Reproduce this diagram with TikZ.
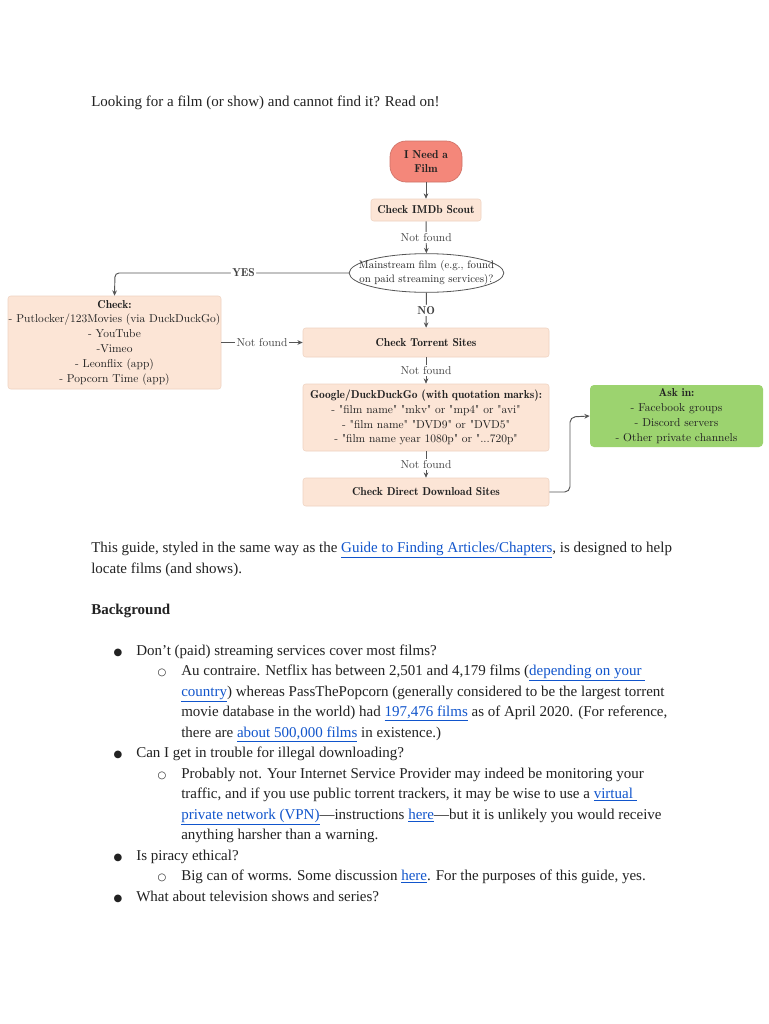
\documentclass[tikz,border=0pt]{standalone}
\usepackage{fontspec}
\setmainfont{Liberation Serif}
\newfontfamily\chartfont[BoldFont=lmromandemi10-regular.otf]{lmroman10-regular.otf}
\newfontfamily\symfont{DejaVu Sans}
\usetikzlibrary{arrows.meta,shapes.geometric}
\definecolor{peach}{HTML}{FCE5D6}
\definecolor{peachline}{HTML}{EFD3C2}
\definecolor{salmon}{HTML}{F4877A}
\definecolor{grass}{HTML}{9CD36F}
\definecolor{ink}{HTML}{222222}
\definecolor{wire}{HTML}{555555}
\definecolor{linkblue}{HTML}{1155CC}
\definecolor{body}{HTML}{222222}
\newcommand\lnk[1]{\textcolor{linkblue}{\underline{#1}}}
\begin{document}
\begin{tikzpicture}[x=0.75pt,y=-0.75pt,
  chart/.style={font=\chartfont\fontsize{8.6}{11.1}\selectfont, text=ink, align=center, inner sep=0pt},
  chartbold/.style={font=\chartfont\bfseries\fontsize{8.6}{11.1}\selectfont},
  pbox/.style={chart, rectangle, rounded corners=2pt, fill=peach, draw=peachline, line width=0.4pt},
  startbox/.style={chart, chartbold, rectangle, rounded corners=12pt, fill=salmon, draw=salmon!85!black, line width=0.5pt},
  askbox/.style={chart, rectangle, rounded corners=3pt, fill=grass, draw=none},
  decision/.style={ellipse, draw=wire, fill=white, line width=0.6pt, inner sep=0pt},
  conn/.style={draw=wire, line width=0.7pt, -{Stealth[length=4pt,width=3.5pt]}},
  lab/.style={chart, fill=white, inner sep=1pt, text=ink!85},
  btext/.style={anchor=base west, inner sep=0pt, text=body, font=\fontsize{11.25}{13}\selectfont},
  bul/.style={anchor=base, inner sep=0pt, text=body, font=\symfont\fontsize{7.5}{8}\selectfont}
]
\useasboundingbox[fill=white] (0,0) rectangle (768,1024);

% ---------- flowchart ----------
\node[startbox, minimum width=54pt, minimum height=30.75pt] (start) at (426,161.5) {I Need a\\Film};
\node[pbox, chartbold, minimum width=82.5pt, minimum height=16.5pt] (imdb) at (426,210) {Check IMDb Scout};
\node[decision, minimum width=116pt, minimum height=29pt] (main) at (426.5,273) {};
\node[chart, font=\chartfont\fontsize{8.1}{10.8}\selectfont] (maintext) at (main.center) {Mainstream film (e.g., found\\on paid streaming services)?};
\node[pbox, minimum width=159.75pt, minimum height=69.75pt] (check) at (114.5,342.5) {\textbf{Check:}\\- Putlocker/123Movies (via DuckDuckGo)\\- YouTube\\-Vimeo\\- Leonflix (app)\\- Popcorn Time (app)};
\node[pbox, chartbold, minimum width=184.5pt, minimum height=21.75pt] (torrent) at (426,342.5) {Check Torrent Sites};
\node[pbox, minimum width=184.5pt, minimum height=50.25pt] (google) at (426,417.5) {\textbf{Google/DuckDuckGo (with quotation marks):}\\- "film name" "mkv" or "mp4" or "avi"\\- "film name" "DVD9" or "DVD5"\\- "film name year 1080p" or "...720p"};
\node[pbox, chartbold, minimum width=184.5pt, minimum height=21pt] (direct) at (426,492) {Check Direct Download Sites};
\node[askbox, minimum width=129.75pt, minimum height=46.5pt] (ask) at (676.5,416) {\textbf{Ask in:}\\- Facebook groups\\- Discord servers\\- Other private channels};

\coordinate (yc) at (115,273);
\coordinate (dc1) at (570,492);
\coordinate (dc2) at (570,417);

\draw[conn] (start) -- (imdb);
\draw[conn] (imdb) -- node[lab] {Not found} (main);
\draw[conn, rounded corners=3pt] (main.west) -- node[lab, chartbold, pos=0.45] {YES} (yc) -- (check.north);
\draw[conn] (main) -- node[lab, chartbold] {NO} (torrent);
\draw[conn] (check.east) -- node[lab] {Not found} (torrent.west);
\draw[conn] (torrent) -- node[lab] {Not found} (google);
\draw[conn] (google) -- node[lab] {Not found} (direct);
\draw[conn, rounded corners=4pt] (direct.east) -- (dc1) -- (dc2) -- (ask.west);

% ---------- body text ----------
\node[btext] (intro) at (91,106) {Looking for a film (or show) and cannot find it? Read on!};
\node[btext] (g1) at (91,552) {This guide, styled in the same way as the \lnk{Guide to Finding Articles/Chapters}, is designed to help};
\node[btext] (g2) at (91,573) {locate films (and shows).};
\node[btext, font=\bfseries\fontsize{11.25}{13}\selectfont] (bg) at (91,614) {Background};

\node[bul] (b1) at (118,655) {●};
\node[btext] (t1) at (136,655) {Don’t (paid) streaming services cover most films?};
\node[bul] (s1) at (162,675) {○};
\node[btext] (t2) at (181,675) {Au contraire. Netflix has between 2,501 and 4,179 films (\lnk{depending on your\ }};
\node[btext] (t3) at (181,696) {\lnk{country}) whereas PassThePopcorn (generally considered to be the largest torrent};
\node[btext] (t4) at (181,716) {movie database in the world) had \lnk{197,476 films} as of April 2020. (For reference,};
\node[btext] (t5) at (181,737) {there are \lnk{about 500,000 films} in existence.)};

\node[bul] (b2) at (118,757) {●};
\node[btext] (t6) at (136,757) {Can I get in trouble for illegal downloading?};
\node[bul] (s2) at (162,778) {○};
\node[btext] (t7) at (181,778) {Probably not. Your Internet Service Provider may indeed be monitoring your};
\node[btext] (t8) at (181,798) {traffic, and if you use public torrent trackers, it may be wise to use a \lnk{virtual\ }};
\node[btext] (t9) at (181,819) {\lnk{private network (VPN)}—instructions \lnk{here}—but it is unlikely you would receive};
\node[btext] (t10) at (181,839) {anything harsher than a warning.};

\node[bul] (b3) at (118,860) {●};
\node[btext] (t11) at (136,860) {Is piracy ethical?};
\node[bul] (s3) at (162,880) {○};
\node[btext] (t12) at (181,880) {Big can of worms. Some discussion \lnk{here}. For the purposes of this guide, yes.};

\node[bul] (b4) at (118,901) {●};
\node[btext] (t13) at (136,901) {What about television shows and series?};
\end{tikzpicture}
\end{document}
